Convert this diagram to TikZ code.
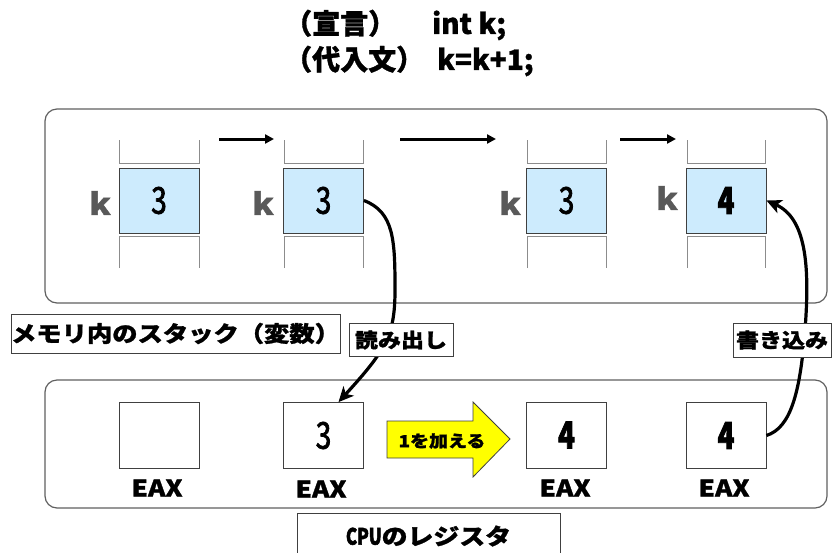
\documentclass[tikz,border=0pt]{standalone}
\usepackage{fontspec}
\setmainfont{Noto Sans CJK JP}[FakeStretch=1.15, BoldFeatures={FakeBold=1.2}]
\newfontfamily\titlef{Noto Sans CJK JP}[FakeStretch=1.0, BoldFeatures={FakeBold=1.2}]
\newfontfamily\numf{Noto Sans CJK JP}[FakeStretch=0.75, FakeBold=2]
\usetikzlibrary{arrows.meta,calc}
\definecolor{kblue}{HTML}{CDEBFD}
\definecolor{boxc}{HTML}{404040}
\definecolor{stkc}{HTML}{8C8C8C}
\definecolor{kgray}{HTML}{595959}
\definecolor{framec}{HTML}{606060}
\definecolor{yel}{HTML}{FFFF00}
\begin{document}
\begin{tikzpicture}[x=1pt,y=-1pt,
  frame/.style={draw=framec, line width=1.2pt, rounded corners=12pt},
  cell/.style={draw=boxc, fill=kblue, minimum width=80, minimum height=65, inner sep=0pt, line width=0.8pt, font=\numf\fontsize{37}{37}\selectfont},
  reg/.style={draw=boxc, fill=white, minimum width=80, minimum height=66, inner sep=0pt, line width=0.8pt, font=\numf\fontsize{37}{37}\selectfont},
  klab/.style={text=kgray, font=\bfseries\fontsize{30}{30}\selectfont, inner sep=0pt},
  eax/.style={font=\bfseries\fontsize{23}{23}\selectfont, inner sep=0pt},
  stk/.style={draw=stkc, line width=0.8pt},
  flow/.style={line width=3pt, -{Triangle[length=9pt,width=9pt]}},
  curv/.style={line width=3.2pt, -{Stealth[length=15pt,width=14pt,inset=4pt]}},
  title/.style={anchor=west, inner sep=0pt, font=\titlef\bfseries\fontsize{28}{28}\selectfont},
  tag/.style={draw=boxc, fill=white, line width=0.8pt, inner sep=0pt, font=\bfseries\fontsize{20}{20}\selectfont}]
\useasboundingbox (0,0) rectangle (834,552);
\fill[white] (0,0) rectangle (834,552);

% title lines
\node[title] (t1) at (284,25) {\makebox[148pt][l]{（宣言）}int k;};
\node[title] (t2) at (284,61) {\makebox[153pt][l]{（代入文）}k=k+1;};

% frames
\draw[frame] (45,109) rectangle (827,303);
\draw[frame] (45,380) rectangle (827,508);

% stack slots
\foreach \a/\b in {119/199, 284/363, 527/606, 687/765}{
  \draw[stk] (\a,140) -- (\a,163) -- (\b,163) -- (\b,140);
  \draw[stk] (\a,268) -- (\a,236) -- (\b,236) -- (\b,268);
}

% memory cells
\node[cell] (c1) at (159,200.5) {3};
\node[cell] (c2) at (323.5,200.5) {3};
\node[cell] (c3) at (566.5,200.5) {3};
\node[cell, font=\numf\bfseries\fontsize{37}{37}\selectfont] (c4) at (726,200.5) {4};
\node[klab] (k1) at (100,203) {k};
\node[klab] (k2) at (263,203) {k};
\node[klab] (k3) at (510,203) {k};
\node[klab] (k4) at (667,198) {k};

% step arrows
\coordinate (a1s) at (219,139); \coordinate (a1e) at (274,139);
\coordinate (a2s) at (400,139); \coordinate (a2e) at (496,139);
\coordinate (a3s) at (620,139); \coordinate (a3e) at (676,139);
\draw[flow] (a1s) -- (a1e);
\draw[flow] (a2s) -- (a2e);
\draw[flow] (a3s) -- (a3e);

% registers
\node[reg] (e1) at (159,435) {};
\node[reg] (e2) at (323.5,435.5) {3};
\node[reg, font=\numf\bfseries\fontsize{37}{37}\selectfont] (e3) at (566.5,435) {4};
\node[reg, font=\numf\bfseries\fontsize{37}{37}\selectfont] (e4) at (726,435.5) {4};
\node[eax] (x1) at (157,488) {EAX};
\node[eax] (x2) at (321,489) {EAX};
\node[eax] (x3) at (565,488) {EAX};
\node[eax] (x4) at (724,488) {EAX};

% yellow add arrow
\draw[draw=boxc, fill=yel, line width=0.8pt] (387,421) -- (473,421) -- (473,402) -- (510,439) -- (473,477) -- (473,458) -- (387,458) -- cycle;
\node[inner sep=0pt, font=\bfseries\fontsize{16.5}{16.5}\selectfont] (add) at (442,441) {1を加える};

% read / write curves
\coordinate (rtip) at ($(e2.north)+(15,0)$);
\draw[curv] (c2.east) .. controls (394,212) and (395,240) .. (395,290)
  .. controls (395,335) and (386,350) .. (rtip);
\draw[curv] (e4.east) .. controls (790,428) and (800,395) .. (805,330)
  .. controls (810,265) and (806,218) .. (c4.east);

% labels
\node[draw=boxc, fill=white, line width=0.8pt, minimum width=329, minimum height=39, inner sep=0pt, font=\bfseries\fontsize{22}{22}\selectfont] (mem) at (175.5,333.5) {メモリ内のスタック（変数）};
\node[tag, minimum width=104, minimum height=33] (rd) at (401,340) {読み出し};
\node[tag, minimum width=98, minimum height=34] (wr) at (782,340) {書き込み};
\node[draw=boxc, fill=white, line width=0.8pt, minimum width=263, minimum height=46, inner sep=0pt, font=\bfseries\fontsize{22.5}{22.5}\selectfont] (cpu) at (428.5,536) {{\numf CPU}のレジスタ};
\end{tikzpicture}
\end{document}
